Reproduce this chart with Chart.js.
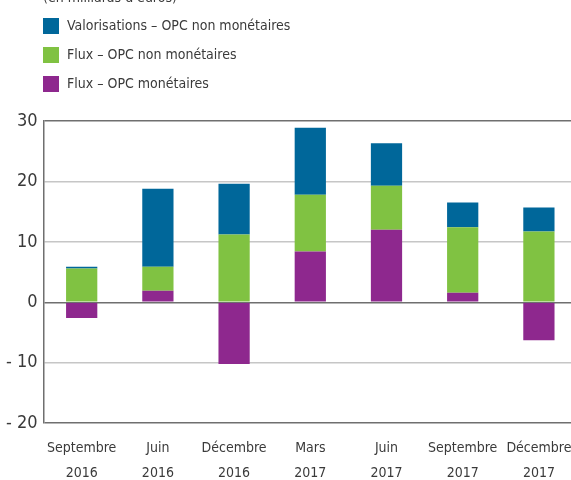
<!DOCTYPE html>
<html>
<head>
<meta charset="utf-8">
<script src="https://cdn.jsdelivr.net/npm/chart.js@4"></script>
<style>
  html, body { margin: 0; padding: 0; background: #fff; overflow: hidden; }
  #wrap { width: 571px; height: 480px; overflow: hidden; position: relative; }
  canvas { position: absolute; left: 0; top: 0; }
</style>
</head>
<body>
<div id="wrap"><canvas id="chart" width="577" height="480"></canvas></div>
<script>
// Données (en milliards d'euros)
const categories = [
    ['Septembre', '2016'], ['Juin', '2016'], ['Décembre', '2016'], ['Mars', '2017'],
    ['Juin', '2017'], ['Septembre', '2017'], ['Décembre', '2017']
];
const fluxMonetaires = [-2.6, 1.9, -10.2, 8.4, 12.0, 1.6, -6.3];
const fluxNonMonetaires = [5.6, 4.0, 11.2, 9.4, 7.3, 10.8, 11.7];
const valorisations = [0.3, 12.9, 8.4, 11.1, 7.0, 4.1, 4.0];
const yTicks = [-20, -10, 0, 10, 20, 30];
const titleText = '(en milliards d\u2019euros)';

const FONT = '"DejaVu Sans Condensed", "Liberation Sans Narrow", sans-serif';
const TEXT_COLOR = '#3a3a3a';

// Légende verticale dessinée sur le canevas
const legendPlugin = {
    id: 'verticalLegend',
    afterDraw(chart) {
        const ctx = chart.ctx;
        ctx.save();
        // titre coupé en haut
        ctx.font = '14px ' + FONT;
        ctx.fillStyle = TEXT_COLOR;
        ctx.textBaseline = 'alphabetic';
        ctx.textAlign = 'left';
        ctx.fillText(titleText, 43, 2);

        const sets = chart.data.datasets.slice().reverse();
        sets.forEach((ds, i) => {
            const y = 18 + i * 29;
            ctx.fillStyle = ds.backgroundColor;
            ctx.fillRect(43, y, 16, 16);
            ctx.fillStyle = TEXT_COLOR;
            ctx.textBaseline = 'middle';
            ctx.fillText(ds.label, 67, y + 8.5);
        });
        ctx.restore();
    }
};

const ctx = document.getElementById('chart').getContext('2d');
const chart = new Chart(ctx, {
    type: 'bar',
    data: {
        labels: categories,
        datasets: [
            { label: 'Flux \u2013 OPC monétaires', data: fluxMonetaires, backgroundColor: '#8e288e' },
            { label: 'Flux \u2013 OPC non monétaires', data: fluxNonMonetaires, backgroundColor: '#80c242' },
            { label: 'Valorisations \u2013 OPC non monétaires', data: valorisations, backgroundColor: '#00679a' }
        ]
    },
    options: {
        responsive: false,
        animation: false,
        layout: { padding: { top: 121, left: 0, right: 0, bottom: -11 } },
        datasets: { bar: { barPercentage: 0.41, categoryPercentage: 1 } },
        plugins: {
            legend: { display: false },
            tooltip: { enabled: false }
        },
        scales: {
            x: {
                stacked: true,
                grid: { display: false },
                border: { display: false },
                ticks: {
                    color: TEXT_COLOR,
                    font: { family: FONT, size: 14, lineHeight: 1.78 },
                    padding: 5,
                    maxRotation: 0,
                    autoSkip: false
                }
            },
            y: {
                stacked: true,
                min: -20,
                max: 30,
                afterBuildTicks(axis) {
                    axis.ticks = yTicks.map(v => ({ value: v }));
                },
                grid: {
                    drawTicks: false,
                    lineWidth: 1.5,
                    color: c => ([30, 0, -20].includes(c.tick.value) ? '#6f6f6f' : '#c6c6c6')
                },
                border: { display: true, color: '#6f6f6f', width: 1.5 },
                ticks: {
                    color: TEXT_COLOR,
                    font: { family: FONT, size: 18 },
                    padding: 6,
                    callback: v => (v < 0 ? '- ' + Math.abs(v) : String(v))
                }
            }
        }
    },
    plugins: [legendPlugin]
});
</script>
</body>
</html>
